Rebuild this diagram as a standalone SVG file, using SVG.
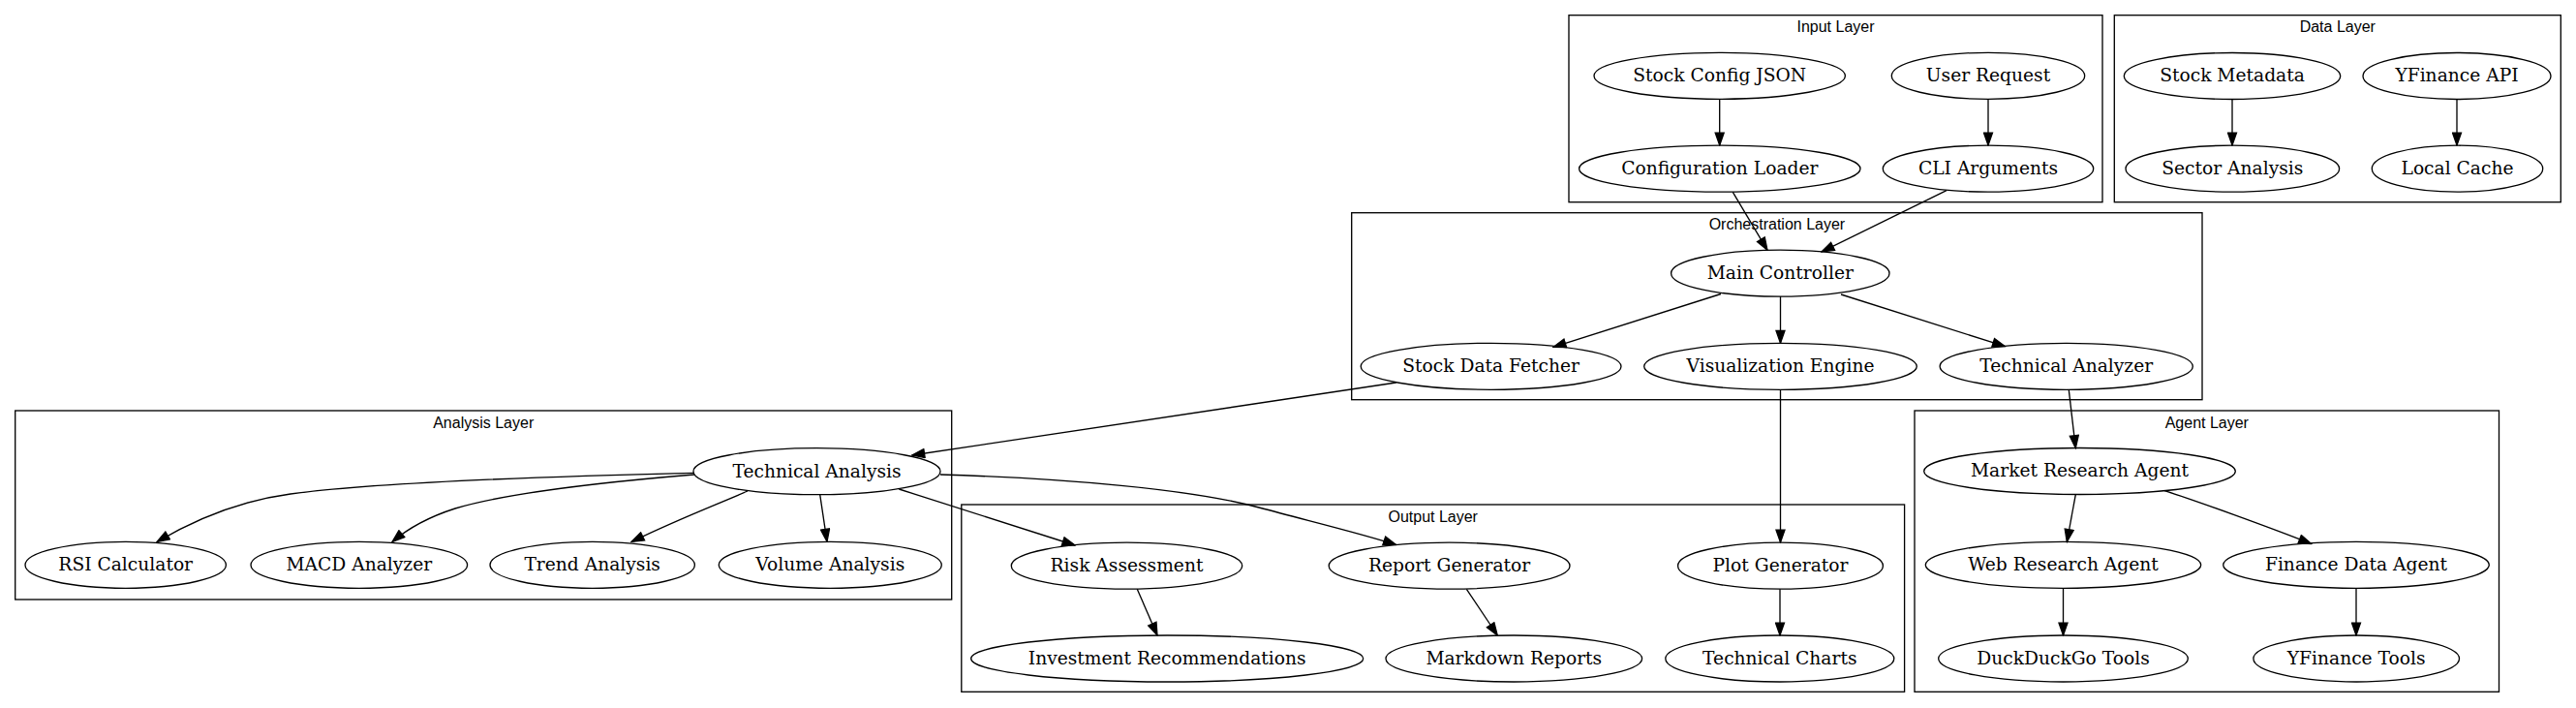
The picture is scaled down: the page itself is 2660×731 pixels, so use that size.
<svg xmlns="http://www.w3.org/2000/svg" width="2660" height="731" viewBox="0 0 2660 731">
<defs>
<style>
.cl{fill:none;stroke:#000;stroke-width:1.33}
.cll{font-family:"Liberation Sans",Arial,sans-serif;font-size:16px;text-anchor:middle;fill:#000}
.nd ellipse{fill:none;stroke:#000;stroke-width:1.33}
.nd text{font-family:"DejaVu Serif","Liberation Serif",serif;font-size:18.67px;text-anchor:middle;fill:#000}
.ed path{fill:none;stroke:#000;stroke-width:1.33;marker-end:url(#ah)}
</style>
<marker id="ah" markerUnits="userSpaceOnUse" markerWidth="15" markerHeight="11" viewBox="-1 -1 15.33 11.33" refX="13.33" refY="4.67" orient="auto">
<path d="M0,0 L13.33,4.67 L0,9.33 Z" fill="#000" stroke="#000" stroke-width="1.33"/>
</marker>
</defs>
<rect width="2660" height="731" fill="#fff"/>
<g id="clusters">
<g id="cluster_input"><rect class="cl" x="1620" y="15.7" width="551" height="193"/><text class="cll" x="1895.5" y="33.4">Input Layer</text></g>
<g id="cluster_data"><rect class="cl" x="2183.3" y="15.7" width="461" height="193"/><text class="cll" x="2413.8" y="33.4">Data Layer</text></g>
<g id="cluster_orch"><rect class="cl" x="1395.7" y="219.7" width="878.3" height="193"/><text class="cll" x="1834.9" y="237.4">Orchestration Layer</text></g>
<g id="cluster_analysis"><rect class="cl" x="15.7" y="424" width="967" height="195"/><text class="cll" x="499.2" y="441.7">Analysis Layer</text></g>
<g id="cluster_output"><rect class="cl" x="992.8" y="521" width="973.8" height="193.3"/><text class="cll" x="1479.7" y="538.7">Output Layer</text></g>
<g id="cluster_agent"><rect class="cl" x="1977" y="424" width="603.5" height="290.3"/><text class="cll" x="2278.8" y="441.7">Agent Layer</text></g>
</g>
<g id="edges" class="ed">
<path d="M1775.7,102.3 L1775.7,150"/>
<path d="M2053,102.3 L2053,150"/>
<path d="M2305,102.7 L2305,150"/>
<path d="M2537,102.7 L2537,150"/>
<path d="M1789.3,198.3 L1825,258.3"/>
<path d="M2010,196.7 L1881,260"/>
<path d="M1777,303.5 L1604,358.3"/>
<path d="M1838.5,306 L1838.5,354.3"/>
<path d="M1901,304 L2070.5,357.7"/>
<path d="M1441.7,395 L941.7,470"/>
<path d="M1838.5,402.3 L1838.5,560"/>
<path d="M2136.3,402.7 L2143.3,462.7"/>
<path d="M716,488.3 C560,492 390,498 300,510 C240,518 195,540 162,559.5"/>
<path d="M717,490 C620,498 520,510 470,525 C445,533 422,545 405,559.5"/>
<path d="M772,507 C745,519 700,536 652,559.5"/>
<path d="M846.7,510.7 L854,559.3"/>
<path d="M928.3,505 L1110,563"/>
<path d="M971,490 C1100,494 1230,505 1300,524 C1360,540 1410,552 1441.5,562.5"/>
<path d="M1174.3,608.3 L1195,656"/>
<path d="M1514.4,608.3 L1546.3,656"/>
<path d="M1838,608.3 L1838,656"/>
<path d="M2143.3,510.7 L2134.3,559.5"/>
<path d="M2235,506.7 C2265,516 2345,545 2386.7,561.5"/>
<path d="M2130.5,607.3 L2130.5,656"/>
<path d="M2433,607.3 L2433,656"/>
</g>
<g id="n_stock_config" class="nd"><ellipse cx="1775.7" cy="78.3" rx="129.7" ry="24"/><text x="1775.7" y="84.2">Stock Config JSON</text></g>
<g id="n_user_request" class="nd"><ellipse cx="2053" cy="78.3" rx="99.7" ry="24"/><text x="2053" y="84.2">User Request</text></g>
<g id="n_config_loader" class="nd"><ellipse cx="1775.8" cy="174.2" rx="145.2" ry="24"/><text x="1775.8" y="180.1">Configuration Loader</text></g>
<g id="n_cli_args" class="nd"><ellipse cx="2053" cy="174.2" rx="108.7" ry="24"/><text x="2053" y="180.1">CLI Arguments</text></g>
<g id="n_stock_meta" class="nd"><ellipse cx="2305" cy="78.5" rx="111.7" ry="24"/><text x="2305" y="84.4">Stock Metadata</text></g>
<g id="n_yfinance_api" class="nd"><ellipse cx="2537" cy="78.5" rx="97" ry="24"/><text x="2537" y="84.4">YFinance API</text></g>
<g id="n_sector" class="nd"><ellipse cx="2305.3" cy="174.2" rx="110.3" ry="24"/><text x="2305.3" y="180.1">Sector Analysis</text></g>
<g id="n_local_cache" class="nd"><ellipse cx="2537.5" cy="174.2" rx="88.2" ry="24"/><text x="2537.5" y="180.1">Local Cache</text></g>
<g id="n_main" class="nd"><ellipse cx="1838.3" cy="282.2" rx="112.7" ry="24"/><text x="1838.3" y="288.1">Main Controller</text></g>
<g id="n_fetcher" class="nd"><ellipse cx="1539.6" cy="378.3" rx="134.4" ry="24"/><text x="1539.6" y="384.2">Stock Data Fetcher</text></g>
<g id="n_viz" class="nd"><ellipse cx="1838.5" cy="378.3" rx="140.8" ry="24"/><text x="1838.5" y="384.2">Visualization Engine</text></g>
<g id="n_tech_analyzer" class="nd"><ellipse cx="2133.7" cy="378.3" rx="130.6" ry="24"/><text x="2133.7" y="384.2">Technical Analyzer</text></g>
<g id="n_tech_analysis" class="nd"><ellipse cx="843.5" cy="486.7" rx="127.5" ry="24"/><text x="843.5" y="492.6">Technical Analysis</text></g>
<g id="n_rsi" class="nd"><ellipse cx="129.7" cy="583.3" rx="103.7" ry="24"/><text x="129.7" y="589.2">RSI Calculator</text></g>
<g id="n_macd" class="nd"><ellipse cx="370.8" cy="583.3" rx="111.8" ry="24"/><text x="370.8" y="589.2">MACD Analyzer</text></g>
<g id="n_trend" class="nd"><ellipse cx="611.7" cy="583.3" rx="105.7" ry="24"/><text x="611.7" y="589.2">Trend Analysis</text></g>
<g id="n_volume" class="nd"><ellipse cx="857.3" cy="583.3" rx="115" ry="24"/><text x="857.3" y="589.2">Volume Analysis</text></g>
<g id="n_risk" class="nd"><ellipse cx="1163.5" cy="584.2" rx="119.2" ry="24"/><text x="1163.5" y="590.1">Risk Assessment</text></g>
<g id="n_report" class="nd"><ellipse cx="1496.6" cy="584.2" rx="124.4" ry="24"/><text x="1496.6" y="590.1">Report Generator</text></g>
<g id="n_plot" class="nd"><ellipse cx="1838.5" cy="584.2" rx="105.9" ry="24"/><text x="1838.5" y="590.1">Plot Generator</text></g>
<g id="n_invest" class="nd"><ellipse cx="1205.2" cy="680" rx="202.5" ry="24"/><text x="1205.2" y="685.9">Investment Recommendations</text></g>
<g id="n_markdown" class="nd"><ellipse cx="1563.3" cy="680" rx="132.3" ry="24"/><text x="1563.3" y="685.9">Markdown Reports</text></g>
<g id="n_charts" class="nd"><ellipse cx="1837.8" cy="680" rx="118" ry="24"/><text x="1837.8" y="685.9">Technical Charts</text></g>
<g id="n_market_agent" class="nd"><ellipse cx="2147.5" cy="486.5" rx="160.8" ry="24"/><text x="2147.5" y="492.4">Market Research Agent</text></g>
<g id="n_web_agent" class="nd"><ellipse cx="2130.5" cy="583.3" rx="142.2" ry="24"/><text x="2130.5" y="589.2">Web Research Agent</text></g>
<g id="n_finance_agent" class="nd"><ellipse cx="2433" cy="583.3" rx="137.3" ry="24"/><text x="2433" y="589.2">Finance Data Agent</text></g>
<g id="n_ddg" class="nd"><ellipse cx="2130.5" cy="680" rx="128.8" ry="24"/><text x="2130.5" y="685.9">DuckDuckGo Tools</text></g>
<g id="n_yf_tools" class="nd"><ellipse cx="2433.2" cy="680" rx="106.3" ry="24"/><text x="2433.2" y="685.9">YFinance Tools</text></g>
</svg>
